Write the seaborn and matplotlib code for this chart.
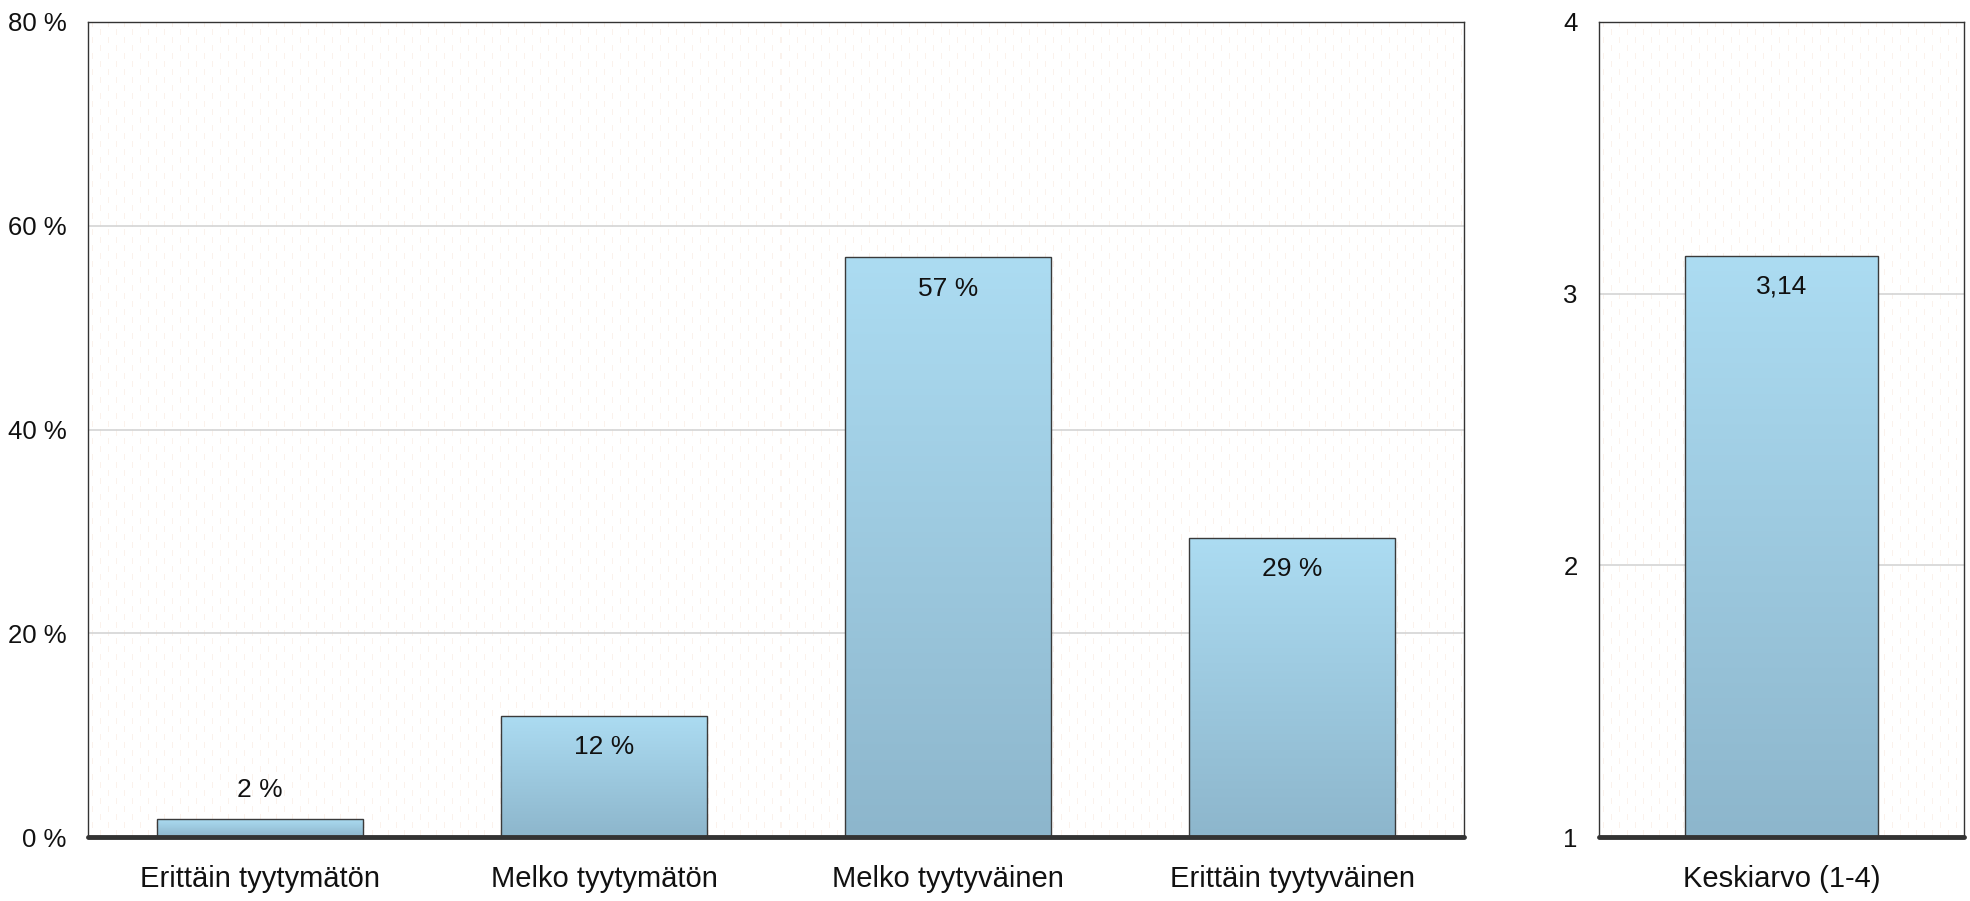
import numpy as np
import pandas as pd
import matplotlib
matplotlib.use("Agg")
import matplotlib.pyplot as plt
import matplotlib.font_manager as fm
from matplotlib.colors import LinearSegmentedColormap
from matplotlib.ticker import FixedLocator, FuncFormatter
import seaborn as sns

categories = ["Erittäin tyytymätön", "Melko tyytymätön", "Melko tyytyväinen", "Erittäin tyytyväinen"]
shares = [1.8, 11.9, 56.9, 29.4]
share_labels = ["2 %", "12 %", "57 %", "29 %"]
mean_category = ["Keskiarvo (1-4)"]
mean_value = [3.14]
mean_labels = ["3,14"]

sns.set_theme(style="white")
names = [f.name for f in fm.fontManager.ttflist]
font = "Liberation Sans Narrow" if "Liberation Sans Narrow" in names else "Liberation Sans"
plt.rcParams["font.family"] = [font, "DejaVu Sans"]

top_col, bot_col = "#acdcf2", "#8db6cc"
cmap = LinearSegmentedColormap.from_list("bar", [bot_col, top_col])
edge = "#3a3a3a"

fig = plt.figure(figsize=(19.70, 9.01), dpi=100)
ax1 = fig.add_axes([0.0447, 0.0710, 0.6985, 0.9046])
ax2 = fig.add_axes([0.8117, 0.0710, 0.1853, 0.9046])


def dotted_background(ax):
    # faint staggered dash texture behind the plot area
    bb = ax.get_window_extent()
    w, h = int(bb.width), int(bb.height)
    img = np.ones((h, w, 3))
    yy, xx = np.mgrid[0:h, 0:w]
    mask = (xx % 8 == 4) & (((yy + (xx // 8 % 2) * 8) % 16) < 6)
    img[mask] = np.array([251, 242, 236]) / 255
    ax.imshow(img, extent=[0, 1, 0, 1], transform=ax.transAxes,
              aspect="auto", zorder=0, interpolation="nearest")


def style_axis(ax, ymin, ymax, ticks, fmt):
    ax.set_ylim(ymin, ymax)
    ax.yaxis.set_major_locator(FixedLocator(ticks))
    ax.yaxis.set_major_formatter(FuncFormatter(fmt))
    ax.grid(axis="y", color="#d4d4d4", linewidth=1.2, zorder=1)
    ax.set_axisbelow(True)
    for s in ["left", "top", "right"]:
        ax.spines[s].set_visible(True)
        ax.spines[s].set_color("#333333")
        ax.spines[s].set_linewidth(1.0)
    ax.spines["bottom"].set_visible(False)
    ax.axhline(ymin, color="#333333", linewidth=3.5, solid_capstyle="round",
               clip_on=False, zorder=5)
    ax.tick_params(axis="y", length=0, pad=15.5, labelsize=18.5, colors="#111111")
    ax.tick_params(axis="x", length=0, pad=20, labelsize=21, colors="#111111")
    ax.set_xlabel("")
    ax.set_ylabel("")


def gradient_bars(ax, ymin):
    for bar in ax.patches:
        x0, w, h = bar.get_x(), bar.get_width(), bar.get_height()
        y1 = bar.get_y() + h
        grad = np.linspace(0, 1, 256).reshape(-1, 1)
        im = ax.imshow(grad, cmap=cmap, aspect="auto", origin="lower",
                       extent=[x0, x0 + w, ymin, y1], zorder=2)
        im.set_clip_path(bar)
        bar.set_facecolor("none")
        bar.set_edgecolor(edge)
        bar.set_linewidth(1.0)
        bar.set_zorder(3)


df1 = pd.DataFrame({"cat": categories, "val": shares})
sns.barplot(data=df1, x="cat", y="val", ax=ax1, width=0.6, color=top_col)
ax1.set_xlim(-0.5, 3.5)
style_axis(ax1, 0, 80, [0, 20, 40, 60, 80], lambda v, p: f"{v:.0f} %")
gradient_bars(ax1, 0)
dotted_background(ax1)
ax1.set_xlim(-0.5, 3.5)
ax1.set_ylim(0, 80)
for bar, lab in zip(ax1.patches, share_labels):
    cx = bar.get_x() + bar.get_width() / 2
    top = bar.get_height()
    if top < 6:
        ax1.text(cx, top + 2.8, lab, ha="center", va="center", fontsize=19, color="#111111", zorder=6)
    else:
        ax1.text(cx, top - 3.1, lab, ha="center", va="center", fontsize=19, color="#111111", zorder=6)

df2 = pd.DataFrame({"cat": mean_category, "val": mean_value})
sns.barplot(data=df2, x="cat", y="val", ax=ax2, width=0.53, color=top_col)
ax2.set_xlim(-0.5, 0.5)
style_axis(ax2, 1, 4, [1, 2, 3, 4], lambda v, p: f"{v:.0f}")
for bar in ax2.patches:
    bar.set_y(1)
    bar.set_height(bar.get_height() - 1)
gradient_bars(ax2, 1)
dotted_background(ax2)
ax2.set_xlim(-0.5, 0.5)
ax2.set_ylim(1, 4)
for bar, lab in zip(ax2.patches, mean_labels):
    cx = bar.get_x() + bar.get_width() / 2
    top = bar.get_y() + bar.get_height()
    ax2.text(cx, top - 0.115, lab, ha="center", va="center", fontsize=19, color="#111111", zorder=6)

fig.savefig("out.png", dpi=100, facecolor="white")
